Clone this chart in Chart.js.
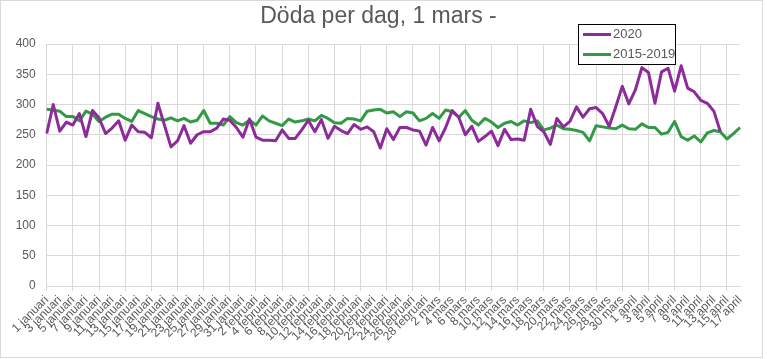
<!DOCTYPE html>
<html>
<head>
<meta charset="utf-8">
<script src="https://cdn.jsdelivr.net/npm/chart.js@4.4.1/dist/chart.umd.min.js"></script>
<style>
html,body{margin:0;padding:0;background:#fff;}
#wrap{width:767px;height:359px;position:relative;}
</style>
</head>
<body>
<div id="wrap"><canvas id="c" width="767" height="359"></canvas></div>
<script>
const categories = [
 "1 januari","2 januari","3 januari","4 januari","5 januari","6 januari","7 januari","8 januari","9 januari","10 januari",
 "11 januari","12 januari","13 januari","14 januari","15 januari","16 januari","17 januari","18 januari","19 januari","20 januari",
 "21 januari","22 januari","23 januari","24 januari","25 januari","26 januari","27 januari","28 januari","29 januari","30 januari","31 januari",
 "1 februari","2 februari","3 februari","4 februari","5 februari","6 februari","7 februari","8 februari","9 februari","10 februari",
 "11 februari","12 februari","13 februari","14 februari","15 februari","16 februari","17 februari","18 februari","19 februari","20 februari",
 "21 februari","22 februari","23 februari","24 februari","25 februari","26 februari","27 februari","28 februari",
 "1 mars","2 mars","3 mars","4 mars","5 mars","6 mars","7 mars","8 mars","9 mars","10 mars",
 "11 mars","12 mars","13 mars","14 mars","15 mars","16 mars","17 mars","18 mars","19 mars","20 mars",
 "21 mars","22 mars","23 mars","24 mars","25 mars","26 mars","27 mars","28 mars","29 mars","30 mars","31 mars",
 "1 april","2 april","3 april","4 april","5 april","6 april","7 april","8 april","9 april","10 april",
 "11 april","12 april","13 april","14 april","15 april","16 april","17 april"
];

const deaths2020 = [
 252,300,256,271,266,285,247,290,278,252,
 261,273,241,266,255,254,245,302,266,230,
 240,265,236,250,255,255,261,276,274,262,246,
 276,246,241,241,240,258,244,244,258,274,
 255,275,244,264,257,252,267,259,263,255,
 228,260,242,262,262,258,256,233,
 262,240,262,290,279,250,264,239,247,256,
 232,259,242,243,241,292,264,255,234,277,
 263,272,296,279,293,295,285,264,296,330,301,
 324,361,353,302,354,360,322,364,327,321,
 307,302,289,255,null,null,null
];

const avg2015_2019 = [
 292,291,289,280,280,273,289,284,272,279,
 284,284,277,272,290,285,280,276,274,278,
 273,277,271,274,290,269,269,266,280,270,266,
 274,266,281,273,269,265,276,271,273,276,
 273,282,277,270,269,277,276,273,289,291,
 292,286,288,280,288,286,273,277,
 285,277,291,288,279,290,274,266,277,271,
 262,269,272,266,273,270,273,258,261,266,
 260,259,257,254,240,265,263,261,260,266,260,
 259,268,262,262,251,254,272,247,241,248,
 238,253,257,255,243,252,262
];

const seriesLabels = ["2020", "2015-2019"];
const yTickMin = 0, yTickMax = 400, yTickStep = 50;
const titleText = "Döda per dag, 1 mars -";

const GRID = '#d9d9d9';
const TXT = '#595959';
const FONT = '"Liberation Sans", Arial, sans-serif';

const frame = {
  id: 'frame',
  beforeDraw(chart) {
    const ctx = chart.ctx;
    ctx.save();
    ctx.fillStyle = '#fff';
    ctx.fillRect(0, 0, chart.width, chart.height);
    ctx.strokeStyle = GRID;
    ctx.lineWidth = 1;
    ctx.strokeRect(0.5, 0.5, 762, 357);
    ctx.restore();
  }
};

const boxLegend = {
  id: 'boxLegend',
  afterDraw(chart) {
    const ctx = chart.ctx;
    ctx.save();
    const x0 = 578.5, y0 = 24.5, w = 97, h = 40;
    ctx.fillStyle = '#fff';
    ctx.fillRect(x0, y0, w, h);
    ctx.strokeStyle = '#000';
    ctx.lineWidth = 1;
    ctx.strokeRect(x0, y0, w, h);
    chart.data.datasets.forEach((ds, i) => {
      const y = 34.5 + i * 20;
      ctx.strokeStyle = ds.borderColor;
      ctx.lineWidth = 3;
      ctx.beginPath();
      ctx.moveTo(583, y);
      ctx.lineTo(611, y);
      ctx.stroke();
      ctx.fillStyle = TXT;
      ctx.font = '13px ' + FONT;
      ctx.textBaseline = 'middle';
      ctx.textAlign = 'left';
      ctx.fillText(ds.label, 613, y);
    });
    ctx.restore();
  }
};

new Chart(document.getElementById('c'), {
  type: 'line',
  data: {
    labels: categories,
    datasets: [
      { label: seriesLabels[0], data: deaths2020, borderColor: '#8e2b9b', backgroundColor: '#8e2b9b',
        borderWidth: 3, pointRadius: 0, tension: 0, spanGaps: false, borderJoinStyle: 'round' },
      { label: seriesLabels[1], data: avg2015_2019, borderColor: '#329a45', backgroundColor: '#329a45',
        borderWidth: 3, pointRadius: 0, tension: 0, borderJoinStyle: 'round' }
    ]
  },
  options: {
    responsive: false,
    animation: false,
    devicePixelRatio: 1,
    layout: { padding: { left: 0, right: 10, top: 0, bottom: 0 } },
    plugins: {
      legend: { display: false },
      tooltip: { enabled: false },
      title: {
        display: true,
        text: titleText,
        color: TXT,
        font: { family: FONT, size: 23, weight: 'normal', lineHeight: 1.2 },
        padding: { top: 3, bottom: 13.4 }
      }
    },
    scales: {
      x: {
        type: 'category',
        offset: false,
        grid: {
          color: (c) => (c.index % 2 === 0 ? GRID : 'rgba(0,0,0,0)'),
          tickLength: 5,
          drawTicks: true
        },
        border: { color: GRID },
        ticks: {
          autoSkip: false,
          maxRotation: 45,
          minRotation: 45,
          padding: 2,
          color: TXT,
          font: { family: FONT, size: 12 },
          callback: (v, i) => (i % 2 === 0 ? categories[i] : null)
        },
        afterFit: (s) => { s.height = 73; }
      },
      y: {
        min: yTickMin,
        max: yTickMax,
        grid: { color: GRID, drawTicks: false },
        border: { display: false },
        ticks: { stepSize: yTickStep, padding: 11, color: TXT, font: { family: FONT, size: 12 } },
        afterFit: (s) => { s.width = 46.7; }
      },
      y2: {
        position: 'right',
        min: yTickMin,
        max: yTickMax,
        grid: { drawOnChartArea: false, drawTicks: false },
        border: { display: false },
        ticks: { display: false },
        afterFit: (s) => { s.width = 17; }
      }
    }
  },
  plugins: [frame, boxLegend]
});
</script>
</body>
</html>
